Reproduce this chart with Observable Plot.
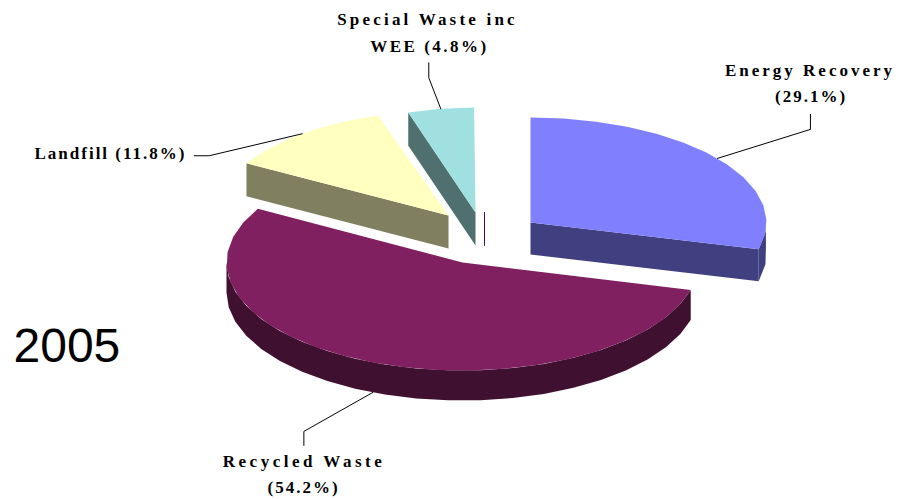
<!DOCTYPE html>
<html>
<head>
<meta charset="utf-8">
<script src="https://cdn.jsdelivr.net/npm/d3@7"></script>
<script src="https://cdn.jsdelivr.net/npm/@observablehq/plot@0.6"></script>
<style>html,body{margin:0;padding:0;background:#fff}svg{display:block}</style>
</head>
<body>
<div id="chart"></div>
<script>
// Data
const categories = ["Energy Recovery", "Recycled Waste", "Landfill", "Special Waste inc WEE", "Other"];
const shares = [29.1, 54.2, 11.8, 4.8, 0.1];
const yearLabel = "2005";

// Styling
const topColors = ["#8080ff", "#802060", "#ffffc0", "#a0e0e0", "#400f60"];
const sideColors = ["#404080", "#401030", "#808060", "#507070", "#400f60"];

// Layout of the exploded, tilted pie (in pixel-valued scale units)
const centerX = [530, 462, 448, 475, 484];
const centerY = [222, 262, 215, 212, 212];
const radiusX = [236, 236, 233, 222, 222];
const radiusY = [105, 108, 105, 105, 105];
const depth = [32, 30, 33, 33, 33];

const rad = (d) => (d * Math.PI) / 180;
let acc = -90;
const slices = shares.map((v, i) => {
  const start = acc;
  acc += (v / d3.sum(shares)) * 360;
  return {i, name: categories[i], value: v, start, end: acc, mid: (start + acc) / 2,
    cx: centerX[i], cy: centerY[i], rx: radiusX[i], ry: radiusY[i], h: depth[i]};
});
const at = (s, a, dy = 0) => ({x: s.cx + s.rx * Math.cos(rad(a)), y: s.cy + s.ry * Math.sin(rad(a)) + dy});
const arc = (s, a0, a1, dy = 0) => {
  const n = Math.max(1, Math.round(Math.abs(a1 - a0) / 8));
  return d3.range(n + 1).map((k) => at(s, a0 + ((a1 - a0) * k) / n, dy));
};
const apex = (s, dy = 0) => ({x: s.cx, y: s.cy + dy});
const topFace = (s) => [apex(s), ...arc(s, s.start, s.end)];
const rim = (s, a0, a1) => [...arc(s, a0, a1), ...arc(s, a1, a0, s.h)];
const cut = (s, a) => [apex(s), at(s, a), at(s, a, s.h), apex(s, s.h)];

const [energy, recycled, landfill, special, other] = slices;
const fillMark = (points, fill) => Plot.line(points, {x: "x", y: "y", fill, stroke: "none"});

// Leader lines follow each slice's mid-angle
const leader = (s, dy, elbow, end) => {
  const p = at(s, s.mid, dy);
  return [p, {x: p.x + elbow[0], y: p.y + elbow[1]}, {x: p.x + end[0], y: p.y + end[1]}];
};
const leaders = [
  leader(energy, 0, [93, -29], [93, -44]),
  leader(recycled, recycled.h, [-69, 39], [-69, 53]),
  leader(landfill, 0, [-93, 22], [-108, 22]),
  leader(special, 0, [-12, -31], [-12, -46])
];
const pct = (v) => `(${v.toFixed(1)}%)`;
const labels = [
  {x: 809.5, y: 75, text: "Energy Recovery", spacing: 3},
  {x: 810.5, y: 101.5, text: pct(energy.value), spacing: 2},
  {x: 303.5, y: 466, text: "Recycled Waste", spacing: 3.5},
  {x: 303, y: 492, text: pct(recycled.value), spacing: 2},
  {x: 110, y: 158, text: `Landfill ${pct(landfill.value)}`, spacing: 2},
  {x: 427, y: 24, text: "Special Waste inc", spacing: 3.2},
  {x: 429, y: 51, text: `WEE ${pct(special.value)}`, spacing: 2.5}
];

const chart = Plot.plot({
  width: 905, height: 499, margin: 0,
  x: {domain: [0, 905], range: [0, 905], axis: null},
  y: {domain: [0, 499], range: [0, 499], axis: null},
  style: {background: "#fff"},
  marks: [
    // Recycled Waste
    fillMark(rim(recycled, recycled.start, 180), sideColors[1]),
    fillMark(topFace(recycled), topColors[1]),
    // Energy Recovery
    fillMark(rim(energy, -4, energy.end), sideColors[0]),
    fillMark(cut(energy, energy.end), sideColors[0]),
    fillMark(topFace(energy), topColors[0]),
    // Landfill
    fillMark(cut(landfill, landfill.start), sideColors[2]),
    fillMark(topFace(landfill), topColors[2]),
    // Special waste
    fillMark(cut(special, special.start), sideColors[3]),
    fillMark(topFace(special), topColors[3]),
    // The unlabelled sliver only shows its cut face
    Plot.line([apex(other), apex(other, other.h)], {x: "x", y: "y", stroke: sideColors[4], strokeWidth: 1}),
    // Leaders
    ...leaders.map((l) => Plot.line(l, {x: "x", y: "y", stroke: "#000", strokeWidth: 1})),
    // Labels
    Plot.text(labels, {
      x: "x", y: "y", text: "text", textAnchor: "middle", lineAnchor: "bottom",
      fontFamily: "Liberation Serif", fontWeight: "bold", fontSize: 17, fill: "#000",
      render(index, scales, values, dims, ctx, next) {
        const g = next(index, scales, values, dims, ctx);
        g.querySelectorAll("text").forEach((t, k) => { t.style.letterSpacing = labels[index[k]].spacing + "px"; });
        return g;
      }
    }),
    Plot.text([yearLabel], {
      x: () => 13, y: () => 346, text: (d) => d, textAnchor: "start",
      fontFamily: "Liberation Sans", fontSize: 48, fill: "#000"
    })
  ]
});
document.getElementById("chart").append(chart);
</script>
</body>
</html>
